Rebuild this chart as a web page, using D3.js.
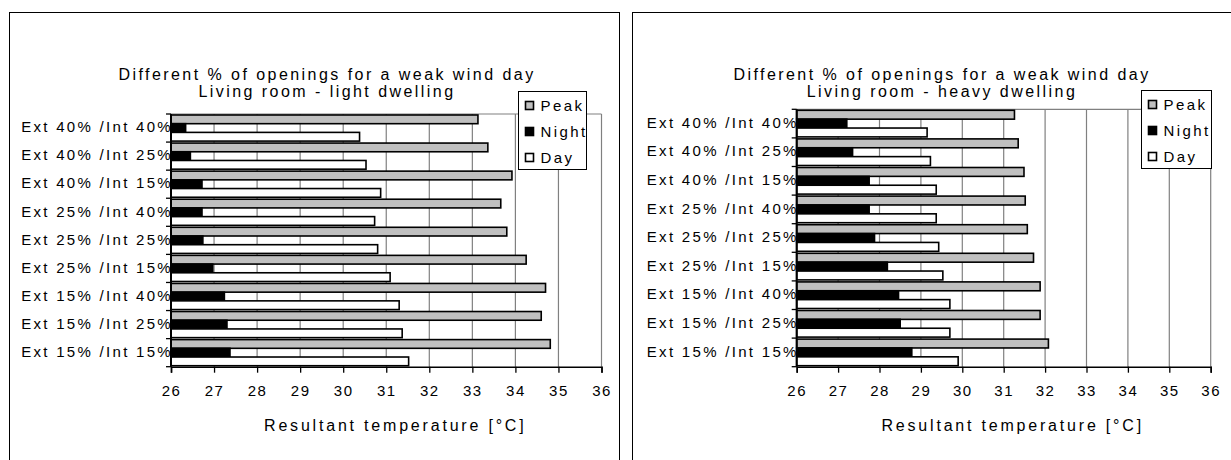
<!DOCTYPE html>
<html><head><meta charset="utf-8">
<script src="https://cdn.jsdelivr.net/npm/d3@7"></script>
<style>
body{margin:0;background:#fff;}
svg{display:block;font-family:"Liberation Sans",Arial,sans-serif;}
</style></head><body><svg id="c" width="1231" height="460"></svg>
<script>
const categories = ["Ext 40% /Int 40%","Ext 40% /Int 25%","Ext 40% /Int 15%","Ext 25% /Int 40%","Ext 25% /Int 25%","Ext 25% /Int 15%","Ext 15% /Int 40%","Ext 15% /Int 25%","Ext 15% /Int 15%"];
const seriesNames = ["Peak","Night","Day"];
const xTickValues = [26,27,28,29,30,31,32,33,34,35,36];
const lightPeak  = [33.13,33.36,33.92,33.66,33.80,34.25,34.70,34.60,34.81];
const lightNight = [26.34,26.45,26.72,26.72,26.74,26.97,27.24,27.30,27.37];
const lightDay   = [30.38,30.53,30.87,30.73,30.80,31.09,31.30,31.37,31.52];
const heavyPeak  = [31.26,31.35,31.49,31.52,31.57,31.72,31.88,31.88,32.08];
const heavyNight = [27.21,27.35,27.75,27.75,27.88,28.19,28.46,28.50,28.78];
const heavyDay   = [29.15,29.23,29.37,29.37,29.43,29.53,29.70,29.70,29.90];
const titleLine1 = "Different % of openings for a weak wind day";
const titleLight = "Living room  - light dwelling";
const titleHeavy = "Living room  - heavy dwelling";
const axisTitle = "Resultant temperature [°C]";
const seriesColors = {Peak:"#c0c0c0", Night:"#000000", Day:"#ffffff"};

const svg = d3.select("#c");

function panel(L, title2, values) {
  const g = svg.append("g");
  g.append("rect").attr("x", L.frame[0]).attr("y", L.frame[1]).attr("width", L.frame[2]).attr("height", L.frame[3])
    .attr("fill", "none").attr("stroke", "#000").attr("stroke-width", 1);

  const x = d3.scaleLinear().domain([26, 36]).range([L.left, L.right]);
  const y = d3.scaleBand().domain(categories).range([L.top, L.bottom]).paddingInner(0.07).paddingOuter(0.035);
  const ys = d3.scaleBand().domain(seriesNames).range([0, y.bandwidth()]);

  // gridlines
  g.append("g").selectAll("line").data(xTickValues.slice(1)).join("line")
    .attr("x1", d => x(d)).attr("x2", d => x(d)).attr("y1", L.top).attr("y2", L.bottom)
    .attr("stroke", "#808080").attr("stroke-width", 1.2);
  g.append("line").attr("x1", x(26)).attr("x2", x(36)).attr("y1", L.top).attr("y2", L.top)
    .attr("stroke", "#808080").attr("stroke-width", 1.2);

  // bars
  const rows = categories.map((c, i) => ({c, vals: seriesNames.map((s, j) => ({s, v: values[j][i]}))}));
  g.append("g").selectAll("g").data(rows).join("g")
    .attr("transform", d => `translate(0,${y(d.c)})`)
    .selectAll("rect").data(d => d.vals).join("rect")
    .attr("x", x(26)).attr("y", d => ys(d.s))
    .attr("width", d => x(d.v) - x(26)).attr("height", ys.bandwidth())
    .attr("fill", d => seriesColors[d.s]).attr("stroke", "#000").attr("stroke-width", 1.6);

  // bottom axis
  const ax = g.append("g").attr("transform", `translate(0,${L.bottom})`)
    .call(d3.axisBottom(x).tickValues(xTickValues).tickSize(6).tickPadding(13).tickFormat(d3.format("d")));
  ax.select(".domain").attr("stroke", "#000").attr("stroke-width", 1.6);
  ax.selectAll(".tick line").attr("stroke", "#000").attr("stroke-width", 1.3);
  ax.selectAll(".tick text").attr("font-size", 15).attr("font-family", "Liberation Sans, Arial, sans-serif")
    .attr("letter-spacing", "1.5px").attr("fill", "#000");

  // left axis
  g.append("line").attr("x1", x(26)).attr("x2", x(26)).attr("y1", L.top).attr("y2", L.bottom)
    .attr("stroke", "#000").attr("stroke-width", 2);
  const half = (y.step() - y.bandwidth()) / 2;
  const bounds = categories.map(c => y(c) - half).concat([L.bottom]);
  g.append("g").selectAll("line").data(bounds).join("line")
    .attr("x1", x(26) - 5).attr("x2", x(26)).attr("y1", d => d).attr("y2", d => d)
    .attr("stroke", "#000").attr("stroke-width", 1.3);
  g.append("g").selectAll("text").data(categories).join("text")
    .attr("x", x(26) + 2).attr("y", d => y(d) + y.bandwidth() / 2 - 1).attr("dy", "0.35em")
    .attr("text-anchor", "end").attr("font-size", 15).attr("letter-spacing", "2.3px").text(d => d);

  // axis title
  g.append("text").attr("x", (L.left + L.right) / 2 + 9).attr("y", L.bottom + 64).attr("text-anchor", "middle")
    .attr("font-size", 16).attr("letter-spacing", "2.8px").text(axisTitle);

  // chart title
  g.append("text").attr("x", L.titleX).attr("y", L.titleY).attr("text-anchor", "middle")
    .attr("font-size", 16).attr("letter-spacing", "2.45px").text(titleLine1);
  g.append("text").attr("x", L.titleX).attr("y", L.titleY + 17).attr("text-anchor", "middle")
    .attr("font-size", 16).attr("letter-spacing", "2.45px").text(title2);

  // legend
  const lg = g.append("g");
  lg.append("rect").attr("x", L.legend[0]).attr("y", L.legend[1]).attr("width", L.legend[2]).attr("height", L.legend[3])
    .attr("fill", "#fff").attr("stroke", "#000").attr("stroke-width", 1);
  const items = lg.selectAll("g").data(seriesNames).join("g")
    .attr("transform", (d, i) => `translate(${L.legend[0] + 11},${L.legend[1] + 14 + i * 26})`);
  items.append("rect").attr("x", -4).attr("y", -4).attr("width", 8).attr("height", 8)
    .attr("fill", d => seriesColors[d]).attr("stroke", "#000").attr("stroke-width", 1.6);
  items.append("text").attr("x", 11).attr("dy", "0.36em").attr("font-size", 15).attr("letter-spacing", "2.4px").text(d => d);
}

panel({frame:[9.5,12.5,610,470], left:171, right:601.5, top:114, bottom:366.7, titleX:327, titleY:80, legend:[518.5,91.5,68,78]},
  titleLight, [lightPeak, lightNight, lightDay]);
panel({frame:[632.5,12.5,640,470], left:796.7, right:1210.7, top:109.3, bottom:366.7, titleX:942, titleY:80, legend:[1141.5,90.5,70,78]},
  titleHeavy, [heavyPeak, heavyNight, heavyDay]);
</script></body></html>
